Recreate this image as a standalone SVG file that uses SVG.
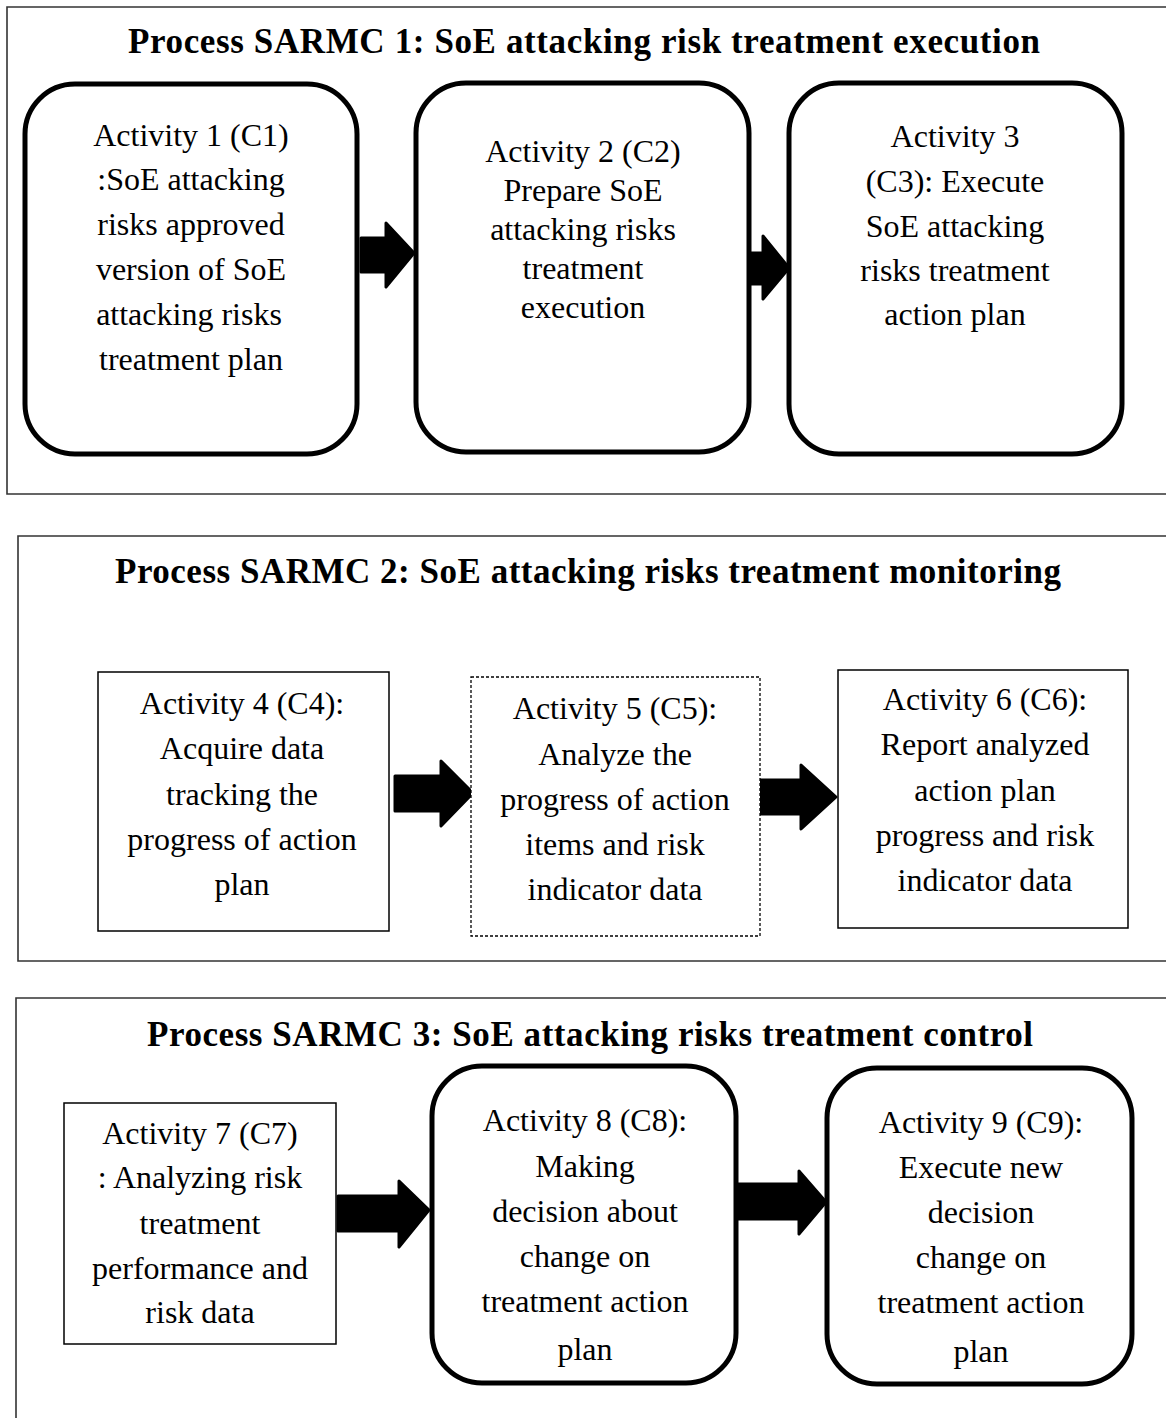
<svg xmlns="http://www.w3.org/2000/svg" width="1166" height="1418" viewBox="0 0 1166 1418">
  <style>
    .frame { fill: none; stroke: #333; stroke-width: 1.6; }
    .thick { fill: #fff; stroke: #000; stroke-width: 5; }
    .thin { fill: #fff; stroke: #000; stroke-width: 1.5; }
    .dashed { fill: #fff; stroke: #000; stroke-width: 1.3; stroke-dasharray: 3 2; }
    .title { font-family: "Liberation Serif", "Times New Roman", serif; font-weight: bold; font-size: 35px; fill: #000; text-anchor: middle; }
    .label { font-family: "Liberation Serif", "Times New Roman", serif; font-size: 32px; fill: #000; text-anchor: middle; }
    .arrow { fill: #000; stroke: #000; stroke-width: 3; stroke-linejoin: round; }
  </style>
  <rect width="1166" height="1418" fill="#fff"/>

  <!-- process frames (open on the right edge / bottom) -->
  <g id="frames">
    <path class="frame" d="M1166,7 H7 V494 H1166"/>
    <path class="frame" d="M1166,536 H18 V961 H1166"/>
    <path class="frame" d="M1166,998 H16 V1418"/>
    <text class="title" x="584" y="53" textLength="912" lengthAdjust="spacing">Process SARMC 1: SoE attacking risk treatment execution</text>
    <text class="title" x="588" y="583" textLength="946" lengthAdjust="spacing">Process SARMC 2: SoE attacking risks treatment monitoring</text>
    <text class="title" x="590" y="1046" textLength="886" lengthAdjust="spacing">Process SARMC 3: SoE attacking risks treatment control</text>
  </g>

  <!-- connectors: block arrows between activities -->
  <g id="connectors">
    <polygon class="arrow" points="361,238 386,238 386,223 414,253 386,287 386,272 361,272"/>
    <polygon class="arrow" points="751,253 763,253 763,236 789,268 763,299 763,284 751,284"/>
    <polygon class="arrow" points="395,776 441,776 441,761 473,793 441,826 441,811 395,811"/>
    <polygon class="arrow" points="758,780 801,780 801,765 836,797 801,829 801,814 758,814"/>
    <polygon class="arrow" points="338,1196 399,1196 399,1181 429,1210 399,1247 399,1231 338,1231"/>
    <polygon class="arrow" points="738,1184 799,1184 799,1171 826,1202 799,1234 799,1219 738,1219"/>
  </g>

  <g id="c1">
    <rect class="thick" x="25" y="84" width="332" height="370" rx="50"/>
    <text class="label" x="191" y="146">Activity 1  (C1)</text>
    <text class="label" x="191" y="190">:SoE attacking</text>
    <text class="label" x="191" y="235">risks approved</text>
    <text class="label" x="191" y="280">version of SoE</text>
    <text class="label" x="189" y="325">attacking risks</text>
    <text class="label" x="191" y="370">treatment plan</text>
  </g>

  <g id="c2">
    <rect class="thick" x="416" y="83" width="333" height="369" rx="50"/>
    <text class="label" x="583" y="162">Activity 2 (C2)</text>
    <text class="label" x="583" y="201">Prepare SoE</text>
    <text class="label" x="583" y="240">attacking risks</text>
    <text class="label" x="583" y="279">treatment</text>
    <text class="label" x="583" y="318">execution</text>
  </g>

  <g id="c3">
    <rect class="thick" x="789" y="83" width="333" height="371" rx="50"/>
    <text class="label" x="955" y="147">Activity 3</text>
    <text class="label" x="955" y="192">(C3): Execute</text>
    <text class="label" x="955" y="237">SoE attacking</text>
    <text class="label" x="955" y="281">risks treatment</text>
    <text class="label" x="955" y="325">action plan</text>
  </g>

  <g id="c4">
    <rect class="thin" x="98" y="672" width="291" height="259"/>
    <text class="label" x="242" y="714">Activity 4 (C4):</text>
    <text class="label" x="242" y="759">Acquire data</text>
    <text class="label" x="242" y="805">tracking the</text>
    <text class="label" x="242" y="850">progress of action</text>
    <text class="label" x="242" y="895">plan</text>
  </g>

  <g id="c5">
    <rect class="dashed" x="471" y="677" width="289" height="259"/>
    <text class="label" x="615" y="719">Activity 5 (C5):</text>
    <text class="label" x="615" y="765">Analyze the</text>
    <text class="label" x="615" y="810">progress of action</text>
    <text class="label" x="615" y="855">items and risk</text>
    <text class="label" x="615" y="900">indicator data</text>
  </g>

  <g id="c6">
    <rect class="thin" x="838" y="670" width="290" height="258"/>
    <text class="label" x="985" y="710">Activity 6 (C6):</text>
    <text class="label" x="985" y="755">Report analyzed</text>
    <text class="label" x="985" y="801">action plan</text>
    <text class="label" x="985" y="846">progress and risk</text>
    <text class="label" x="985" y="891">indicator data</text>
  </g>

  <g id="c7">
    <rect class="thin" x="64" y="1103" width="272" height="241"/>
    <text class="label" x="200" y="1144">Activity 7 (C7)</text>
    <text class="label" x="200" y="1188">: Analyzing risk</text>
    <text class="label" x="200" y="1234">treatment</text>
    <text class="label" x="200" y="1279">performance and</text>
    <text class="label" x="200" y="1323">risk data</text>
  </g>

  <g id="c8">
    <rect class="thick" x="432" y="1066" width="304" height="317" rx="50"/>
    <text class="label" x="585" y="1131">Activity 8 (C8):</text>
    <text class="label" x="585" y="1177">Making</text>
    <text class="label" x="585" y="1222">decision about</text>
    <text class="label" x="585" y="1267">change on</text>
    <text class="label" x="585" y="1312">treatment action</text>
    <text class="label" x="585" y="1360">plan</text>
  </g>

  <g id="c9">
    <rect class="thick" x="827" y="1068" width="305" height="316" rx="50"/>
    <text class="label" x="981" y="1133">Activity 9 (C9):</text>
    <text class="label" x="981" y="1178">Execute new</text>
    <text class="label" x="981" y="1223">decision</text>
    <text class="label" x="981" y="1268">change on</text>
    <text class="label" x="981" y="1313">treatment action</text>
    <text class="label" x="981" y="1362">plan</text>
  </g>
</svg>
